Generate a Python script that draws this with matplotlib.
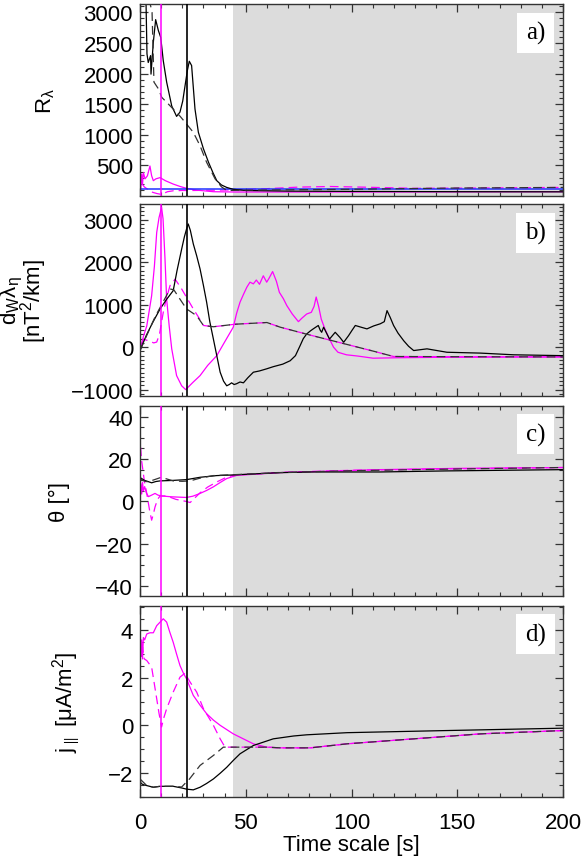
import numpy as np
import matplotlib
matplotlib.use("Agg")
import matplotlib.pyplot as plt
from matplotlib.ticker import MultipleLocator, FixedLocator

plt.rcParams['font.family'] = ['Liberation Sans', 'DejaVu Sans']
plt.rcParams['mathtext.default'] = 'regular'

# vertical markers and shaded interval (seconds)
t_magenta = 10.1
t_black = 22.2
shade_start = 44

# ---- panel a) R_lambda
a_blk_t = [0, 1, 2, 2.8, 3.3, 3.9, 4.6, 5.0, 5.2, 6.3, 7.4, 8.7, 9.8, 11, 12.6, 15, 17.3, 18.9, 20.2, 21.3, 22.4, 23.3, 24.4, 26, 27.6, 30, 32.4, 34.5, 36.3, 38.5, 41, 44, 50, 70, 100, 150, 200]
a_blk_v = [3400, 3400, 3350, 3250, 2320, 2180, 2250, 2290, 1990, 2510, 2880, 2700, 2590, 2210, 1860, 1470, 1300, 1370, 1550, 1800, 2050, 2200, 2130, 1420, 1040, 770, 550, 380, 250, 180, 140, 110, 90, 80, 75, 70, 68]
a_blk_d_t = [0, 4.4, 5.7, 6.6, 8.7, 10.3, 12.6, 15.7, 19, 22, 25.2, 28.4, 31.5, 35.5, 38.5, 41, 50, 100, 150, 200]
a_blk_d_v = [3400, 3200, 3000, 1860, 1750, 1610, 1530, 1420, 1300, 1175, 1040, 820, 550, 280, 150, 90, 95, 110, 130, 140]
a_mag_t = [0, 0.4, 0.8, 1.2, 1.6, 2.4, 3.5, 4.7, 5.5, 6.3, 7.5, 9.5, 12, 15.7, 19, 22, 27, 34.7, 45, 100, 200]
a_mag_v = [250, 110, 360, 200, 380, 280, 330, 490, 330, 250, 280, 300, 250, 195, 155, 125, 95, 70, 65, 65, 70]
a_mag_d_t = [0, 1, 2, 4, 6, 8, 9.5, 11, 13, 15.7, 20, 25, 35, 45, 60, 75, 90, 105, 130, 160, 200]
a_mag_d_v = [330, 200, 150, 100, 60, 40, 30, 40, 70, 85, 90, 90, 95, 100, 120, 145, 155, 145, 125, 130, 140]
a_blue_t = [0, 200]
a_blue_v = [113, 113]

# ---- panel b) d_W lambda_eta
b_mag_t = [0, 1.6, 3.2, 4.5, 5.5, 6.8, 7.9, 9, 10.2, 10.9, 11.8, 12.6, 13.8, 15, 17.3, 19.7, 21.6, 25, 28.4, 32, 36.3, 40, 44.1, 45.7, 47.3, 49, 50.5, 52, 53.6, 55, 56.5, 58.3, 59.9, 61, 62.7, 64.5, 65.9, 67.8, 69.4, 72, 74.9, 76.5, 78.8, 81, 82.3, 83.3, 84.5, 85.7, 87.5, 89.6, 91.5, 93.6, 97.6, 103, 110.2, 121.2, 140, 170, 200]
b_mag_v = [-80, 250, 500, 900, 1210, 1900, 2700, 3050, 3290, 3020, 2100, 1130, 500, -40, -670, -910, -1000, -830, -670, -430, -200, 120, 470, 800, 1060, 1250, 1410, 1530, 1490, 1580, 1480, 1680, 1530, 1620, 1780, 1550, 1290, 1140, 980, 780, 600, 680, 780, 820, 960, 1180, 950, 660, 420, 190, 0, -120, -180, -210, -260, -250, -240, -235, -230]
b_blk_t = [0, 3, 6, 9.5, 12.5, 15.7, 17.5, 19.7, 21, 22, 22.8, 23.8, 25.2, 26.8, 28.4, 30, 31.5, 33, 34.7, 36.3, 37.9, 39.5, 41, 42.2, 43.3, 44.5, 45.7, 47.3, 48.9, 51, 53.6, 56.5, 59.9, 63, 67.5, 71, 73.5, 75.7, 77.2, 78.8, 80.5, 81.9, 84.3, 85.2, 85.9, 86.8, 89.6, 92.3, 94.5, 96.3, 98.6, 100.3, 101.8, 104.5, 107.3, 110.5, 113.6, 115.5, 116.8, 118.3, 119.9, 122, 124.7, 127, 129.4, 135.7, 145.1, 160.9, 176.7, 200]
b_blk_v = [-80, 280, 580, 900, 1120, 1330, 1800, 2310, 2600, 2780, 2900, 2750, 2430, 2150, 1840, 1450, 1060, 600, 190, -200, -590, -800, -910, -880, -840, -880, -860, -820, -840, -720, -590, -560, -510, -460, -400, -320, -200, 35, 200, 310, 380, 430, 510, 400, 350, 470, 190, 350, 230, 115, 270, 400, 510, 470, 430, 500, 550, 600, 860, 700, 510, 330, 150, 20, -80, -40, -120, -140, -180, -200]
b_blk_d_t = [0, 7, 14.2, 16, 18.9, 22, 26.8, 30, 34.7, 45, 60, 66.3, 80, 95, 110, 119.9, 150, 200]
b_blk_d_v = [-80, 700, 1370, 1350, 1130, 900, 740, 510, 480, 540, 580, 470, 290, 100, -90, -220, -225, -230]
b_mag_d_t = [0, 1.6, 4, 6.5, 7.9, 9.2, 11, 12.5, 14.2, 16.6, 19.7, 22.5, 25.2, 28, 30, 34.7, 45, 60, 66.3, 80, 95, 110, 119.9, 150, 200]
b_mag_d_v = [-80, 190, 150, 100, 120, 300, 820, 1150, 1450, 1600, 1370, 1130, 900, 680, 510, 480, 540, 580, 470, 290, 100, -90, -220, -225, -230]

# ---- panel c) theta
c_blk_t = [0, 0.5, 2, 3.5, 5.5, 7.5, 9.5, 15, 22, 28.4, 36.3, 44.1, 66.3, 82, 113.6, 145, 200]
c_blk_v = [10, 11, 10, 9.5, 8.8, 9.4, 9.7, 9.9, 10.3, 11.4, 12.2, 12.5, 13.6, 13.9, 13.9, 14.4, 15.0]
c_blk_d_t = [0, 1, 2.5, 4, 6, 9.5, 12, 15.7, 20, 23.7, 28.4, 34.7, 44.1, 66.3, 100, 150, 200]
c_blk_d_v = [11, 10, 9.5, 9.2, 10, 11.2, 10.8, 9.7, 9.5, 9.7, 11, 12.2, 12.6, 13.6, 14.5, 15.3, 16]
c_mag_t = [0, 0.4, 0.8, 1.2, 1.6, 2.2, 3, 4, 5.5, 7.1, 8.5, 10.2, 15, 22, 25, 28.4, 31.5, 34.7, 38, 41, 45.7, 66.3, 113.6, 150, 200]
c_mag_v = [4, 8.4, 3.5, 9, 5, 7, 4, 2.3, 3, 3.8, 3, 2.6, 2.2, 1.9, 2.5, 3.8, 5.2, 6.9, 9, 10.8, 12.3, 13.6, 15, 15.6, 16]
c_mag_d_t = [0, 0.8, 2, 3.2, 4.5, 5.5, 6.3, 7.1, 8.3, 9.5, 12.6, 17, 22, 23.7, 28.4, 32, 36.3, 40, 44.1, 66.3, 100, 150, 200]
c_mag_d_v = [29, 19, 10, 3.8, -4, -8.8, -6, -2.6, 1, 2.6, 2.6, 1, 0, -0.5, 4.1, 6.8, 9.2, 11, 12.4, 13.7, 14.7, 15.4, 16]

# ---- panel d) j_par
d_mag_t = [0, 0.4, 0.8, 1.2, 1.6, 2.2, 3.2, 4.7, 6.3, 7.9, 9.5, 11, 12.6, 14, 15.7, 17.3, 18.9, 20.5, 22, 25.2, 28.4, 31.5, 34.7, 37.9, 44.1, 53.6, 59.9, 66.3, 80.5, 97.9, 129.4, 161, 200]
d_mag_v = [4.1, 3.0, 3.6, 2.8, 3.7, 3.6, 3.85, 3.9, 3.9, 4.2, 4.35, 4.49, 4.35, 3.95, 3.5, 3.0, 2.52, 2.2, 1.96, 1.26, 0.85, 0.49, 0.22, 0, -0.36, -0.78, -0.92, -0.95, -0.95, -0.78, -0.57, -0.36, -0.22]
d_mag_d_t = [0, 0.4, 0.8, 1.2, 2, 3.2, 5.5, 6.5, 7.9, 9, 10.2, 11.2, 12.6, 15.7, 18.9, 21.3, 22.5, 23.7, 26.8, 30, 34.7, 37.9, 40.2, 50, 59.9, 66.3, 80.5, 97.9, 129.4, 161, 200]
d_mag_d_v = [2.7, 3.4, 2.9, 3.3, 2.8, 2.73, 2.45, 1.9, 1.12, 0.5, -0.07, 0.3, 0.7, 1.4, 2.03, 2.2, 2.0, 1.82, 1.4, 0.7, 0, -0.57, -0.92, -0.92, -0.92, -0.95, -0.95, -0.78, -0.57, -0.36, -0.22]
d_blk_t = [0, 0.5, 1.5, 3.2, 6.3, 9.5, 15.7, 19.7, 22, 25.2, 28.4, 31.5, 34.7, 37.9, 41, 44.1, 47.3, 53.6, 63, 72.6, 78.8, 97.9, 145.2, 200]
d_blk_v = [-2.26, -2.45, -2.5, -2.54, -2.61, -2.57, -2.57, -2.64, -2.69, -2.72, -2.61, -2.45, -2.26, -2.02, -1.77, -1.48, -1.2, -0.85, -0.57, -0.45, -0.40, -0.31, -0.22, -0.12]
d_blk_d_t = [0, 3.2, 6.3, 9.5, 15.7, 19.7, 21.3, 22.8, 28.4, 34.7, 39.4, 50, 59.9, 66.3, 80.5, 97.9, 129.4, 161, 200]
d_blk_d_v = [-2.26, -2.54, -2.61, -2.57, -2.57, -2.6, -2.45, -2.33, -1.69, -1.27, -0.92, -0.92, -0.92, -0.95, -0.95, -0.78, -0.57, -0.36, -0.22]

panel_names = ['a)', 'b)', 'c)', 'd)']
ylabels = [r'R$_λ$', 'd$_W$λ$_η$\n[nT$^2$/km]', 'θ [°]', r'j$_{\parallel}$ [μA/m$^2$]']
ylims = [(0, 3135), (-1150, 3370), (-44.5, 45.2), (-3.0, 5.05)]
major_ticks = [[500, 1000, 1500, 2000, 2500, 3000], [-1000, 0, 1000, 2000, 3000], [-40, -20, 0, 20, 40], [-2, 0, 2, 4]]
minor_step = [100, 100, 5, 0.5]
label_x = [-0.196, -0.215, -0.165, -0.135]

MAG = '#ff00ff'
FS = 16

fig = plt.figure(figsize=(5.84, 8.62), dpi=100)
left, width = 140 / 584, 423 / 584
tops = [5, 205, 406.5, 606.5]
bots = [197, 397, 597, 797.5]
axes = []
for i in range(4):
    ax = fig.add_axes([left, 1 - bots[i] / 862, width, (bots[i] - tops[i]) / 862])
    axes.append(ax)

lw = 0.9
dash = (0, (7, 4))
dash2 = (5, (7, 4))

# a)
ax = axes[0]
ax.plot(a_mag_t, a_mag_v, color=MAG, lw=lw)
ax.plot(a_mag_d_t, a_mag_d_v, color=MAG, lw=lw, ls=dash2)
ax.plot(a_blue_t, a_blue_v, color='#2233ff', lw=1.1)
ax.plot(a_blk_t, a_blk_v, color='black', lw=lw)
ax.plot(a_blk_d_t, a_blk_d_v, color='#333333', lw=lw, ls=dash)

# b)
ax = axes[1]
ax.plot(b_mag_t, b_mag_v, color=MAG, lw=lw)
ax.plot(b_mag_d_t, b_mag_d_v, color=MAG, lw=lw, ls=dash2)
ax.plot(b_blk_t, b_blk_v, color='black', lw=lw)
ax.plot(b_blk_d_t, b_blk_d_v, color='#333333', lw=lw, ls=dash)

# c)
ax = axes[2]
ax.plot(c_mag_t, c_mag_v, color=MAG, lw=lw)
ax.plot(c_mag_d_t, c_mag_d_v, color=MAG, lw=lw, ls=dash2)
ax.plot(c_blk_t, c_blk_v, color='black', lw=lw)
ax.plot(c_blk_d_t, c_blk_d_v, color='#333333', lw=lw, ls=dash)

# d)
ax = axes[3]
ax.plot(d_mag_t, d_mag_v, color=MAG, lw=lw)
ax.plot(d_mag_d_t, d_mag_d_v, color=MAG, lw=lw, ls=dash2)
ax.plot(d_blk_t, d_blk_v, color='black', lw=lw)
ax.plot(d_blk_d_t, d_blk_d_v, color='#333333', lw=lw, ls=dash)

for i, ax in enumerate(axes):
    ax.axvspan(shade_start, 200, color='#dcdcdc', zorder=0, lw=0)
    ax.axvline(t_magenta, color=MAG, lw=1.1, zorder=3)
    ax.axvline(t_black, color='black', lw=1.2, zorder=3)
    ax.set_xlim(0, 200)
    ax.set_ylim(*ylims[i])
    ax.xaxis.set_major_locator(MultipleLocator(50))
    ax.xaxis.set_minor_locator(MultipleLocator(10))
    ax.yaxis.set_major_locator(FixedLocator(major_ticks[i]))
    ax.yaxis.set_minor_locator(MultipleLocator(minor_step[i]))
    ax.tick_params(which='both', direction='in', top=True, right=True, colors='#333333', labelcolor='black', labelsize=FS)
    ax.tick_params(which='major', length=6, width=0.9)
    ax.tick_params(which='minor', length=3, width=0.8)
    ax.tick_params(axis='y', pad=5)
    ax.tick_params(axis='x', pad=11)
    for s in ax.spines.values():
        s.set_color('#333333')
        s.set_linewidth(1.0)
    ax.set_ylabel(ylabels[i], fontsize=FS, linespacing=0.7)
    ax.yaxis.set_label_coords(label_x[i], 0.5)
    if i < 3:
        ax.tick_params(labelbottom=False)
    ax.text(0.935, 0.85, panel_names[i], transform=ax.transAxes, ha='center', va='center',
            fontsize=18, family='Liberation Serif', zorder=5,
            bbox=dict(boxstyle='square,pad=0.35', facecolor='white', edgecolor='none'))

axes[3].set_xlabel('Time scale [s]', fontsize=FS, labelpad=1)

fig.savefig('out.png', dpi=100)
